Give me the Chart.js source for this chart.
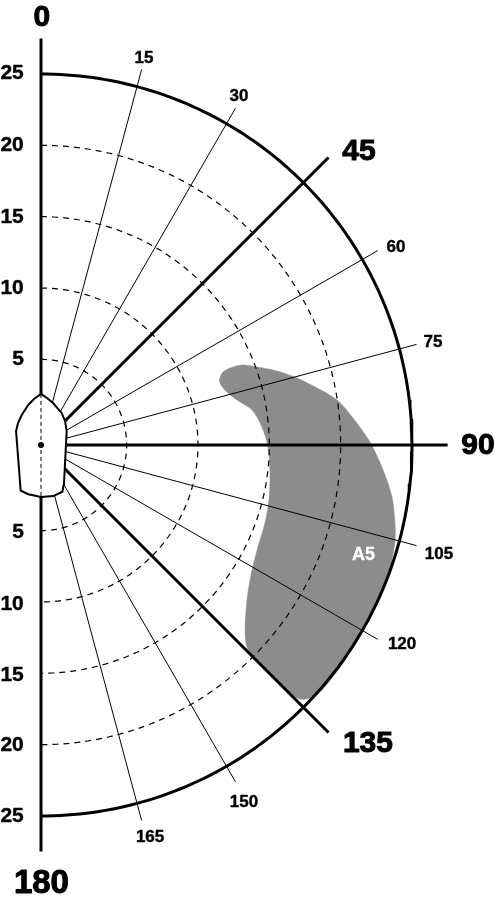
<!DOCTYPE html>
<html>
<head>
<meta charset="utf-8">
<style>html,body{margin:0;padding:0;background:#fff}canvas{display:block}</style>
<script src="https://cdn.jsdelivr.net/npm/chart.js@4"></script>
</head>
<body>
<canvas id="c" width="495" height="900"></canvas>
<script>
// Data
const rangeRings = [5, 10, 15, 20];
const outerRange = 25;
const majorBearings = [45, 90, 135];
const minorBearings = [15, 30, 60, 75, 105, 120, 150, 165];
const blobX = [12.01,12.26,12.94,13.61,14.56,15.90,17.25,18.60,19.95,21.02,22.17,23.05,23.65,23.85,23.85,23.32,22.50,21.70,21.05,20.35,19.48,18.80,18.13,17.45,16.98,15.63,14.29,13.88,13.75,13.88,14.22,14.62,15.09,15.36,15.43,15.30,14.89,14.22,13.21,12.53,12.13,12.01];
const blobY = [4.38,4.92,5.26,5.39,5.26,4.99,4.51,3.84,3.03,1.82,0.20,-1.68,-3.50,-5.26,-6.54,-9.10,-10.78,-12.33,-13.48,-14.69,-15.84,-16.64,-17.05,-17.12,-16.85,-15.63,-14.29,-13.61,-12.67,-10.44,-8.42,-6.87,-5.26,-3.71,-1.89,-0.13,1.21,2.36,3.03,3.57,4.04,4.38];
const hullX = [0,-0.47,-0.86,-1.30,-1.55,-1.68,-1.37,-0.86,0,0.83,1.44,1.55,1.73,1.62,1.39,0.81,0.40,0];
const hullY = [3.44,3.10,2.70,2.02,1.48,0.94,-3.08,-3.32,-3.50,-3.44,-3.15,-2.58,0.94,1.62,2.16,2.83,3.17,3.44];
const rangeTickLabels = ['25','20','15','10','5','5','10','15','20','25'];
const minorBearingLabels = ['15','30','60','75','105','120','150','165'];
const majorBearingLabels = ['0','45','90','135'];
const sternLabel = '180';
const areaLabel = 'A5';

// Layout
const PX_PER_UNIT = 14.84, CX = 41, CY = 445, W = 495, H = 900;
const minorLen = 26.2, majorLen = 27.4;
// range 0 sits one range unit out from the centre point, and a range unit is 14.27 px
const rangeRadius = r => (r + 1) * 14.27 / PX_PER_UNIT;
const rangeTickPos = [[-1.95,25.07],[-1.95,20.2],[-1.95,15.36],[-1.95,10.58],[-1.55,5.8],[-1.55,-5.86],[-1.95,-10.7],[-1.95,-15.5],[-1.95,-20.2],[-1.95,-25]];
const minorLabelPos = [[6.94,26.08],[13.34,23.51],[23.92,13.34],[26.42,6.94],[26.82,-7.35],[24.33,-13.41],[13.68,-24.06],[7.35,-26.42]];
const majorLabelPos = [[0.05,28.77],[21.43,19.74],[29.45,-0.07],[22.03,-20.15]];
const sternLabelPos = [0.03,-29.58];
const areaLabelPos = [21.74,-7.42];

function polar(bearing, r){
  const a = bearing * Math.PI / 180;
  return {x: r * Math.sin(a), y: r * Math.cos(a)};
}
function arcPoints(r){
  const pts = [];
  for (let b = 0; b <= 180; b++) pts.push(polar(b, r));
  return pts;
}
const zip = (xs, ys) => xs.map((x, i) => ({x, y: ys[i]}));
const base = {showLine: true, pointRadius: 0, tension: 0, fill: false, clip: false, borderColor: '#000'};

const datasets = [];
datasets.push({...base, data: zip(blobX, blobY), tension: 0.3, fill: 'shape', backgroundColor: '#8c8c8c', borderColor: '#8c8c8c', borderWidth: 0.5, order: 10});
rangeRings.forEach(r => datasets.push({...base, data: arcPoints(rangeRadius(r)), borderWidth: 1.2, borderDash: [6, 5], order: 8}));
minorBearings.forEach(b => datasets.push({...base, data: [polar(b, 0), polar(b, minorLen)], borderWidth: 1, order: 7}));
majorBearings.forEach(b => datasets.push({...base, data: [polar(b, 0), polar(b, majorLen)], borderWidth: 3, order: 6}));
datasets.push({...base, data: arcPoints(rangeRadius(outerRange)), borderWidth: 3, order: 5});
datasets.push({...base, data: [polar(0, majorLen), polar(180, majorLen)], borderWidth: 3, order: 4});
datasets.push({...base, data: zip(hullX, hullY), fill: 'shape', backgroundColor: '#fff', borderWidth: 2, order: 3});
datasets.push({...base, data: [{x: 0, y: 3.44}, {x: 0, y: -3.5}], borderWidth: 1, borderDash: [4, 3], order: 2});
datasets.push({...base, showLine: false, data: [{x: 0, y: 0}], pointRadius: 3, backgroundColor: '#000', borderWidth: 0, order: 1});

const textPlugin = {
  id: 'text',
  afterDatasetsDraw(chart){
    const {ctx, scales: {x, y}} = chart;
    ctx.save();
    ctx.textAlign = 'center';
    ctx.textBaseline = 'middle';
    ctx.lineJoin = 'round';
    const put = (t, p, font, col, sw) => {
      ctx.font = font; ctx.fillStyle = col || '#000';
      const px = x.getPixelForValue(p[0]), py = y.getPixelForValue(p[1]);
      if (sw) { ctx.strokeStyle = col || '#000'; ctx.lineWidth = sw; ctx.strokeText(t, px, py); }
      ctx.fillText(t, px, py);
    };
    const F = '"Liberation Sans", Arial, sans-serif';
    rangeTickLabels.forEach((t, i) => put(t, rangeTickPos[i], 'bold 21px ' + F, '#000', 0.4));
    minorBearingLabels.forEach((t, i) => put(t, minorLabelPos[i], 'bold 17px ' + F, '#000', 0.4));
    majorBearingLabels.forEach((t, i) => put(t, majorLabelPos[i], 'bold 30px ' + F, '#000', 1));
    put(sternLabel, sternLabelPos, 'bold 33px ' + F, '#000', 1);
    put(areaLabel, areaLabelPos, 'bold 18px ' + F, '#fff', 0.3);
    ctx.restore();
  }
};

new Chart(document.getElementById('c'), {
  type: 'scatter',
  data: {datasets},
  options: {
    responsive: false,
    animation: false,
    layout: {padding: 0, autoPadding: false},
    plugins: {legend: {display: false}, tooltip: {enabled: false}},
    scales: {
      x: {display: false, type: 'linear', min: -CX / PX_PER_UNIT, max: (W - CX) / PX_PER_UNIT},
      y: {display: false, type: 'linear', min: -(H - CY) / PX_PER_UNIT, max: CY / PX_PER_UNIT}
    }
  },
  plugins: [textPlugin]
});
</script>
</body>
</html>
